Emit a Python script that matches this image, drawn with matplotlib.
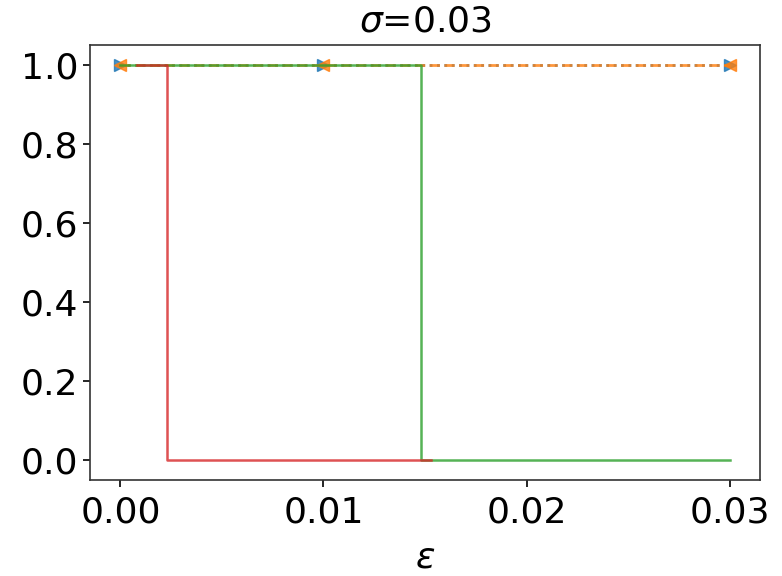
import matplotlib
matplotlib.use("Agg")
import matplotlib.pyplot as plt

# data
marker_x = [0.0, 0.01, 0.03]
blue_y = [1.0, 1.0, 1.0]
orange_y = [1.0, 1.0, 1.0]
green_x = [0.0, 0.0148, 0.0148, 0.03]
green_y = [1.0, 1.0, 0.0, 0.0]
red_x = [0.0008, 0.0023, 0.0023, 0.0153]
red_y = [1.0, 1.0, 0.0, 0.0]

fig = plt.figure(figsize=(7.82, 5.76), dpi=100)
ax = fig.add_axes([0.115, 0.167, 0.857, 0.755])
ax.plot(marker_x, blue_y, ':', marker='>', color='C0', lw=2, ms=8, alpha=0.8)
ax.plot(marker_x, orange_y, '--', marker='<', color='C1', lw=2, ms=8, alpha=0.8)
ax.plot(green_x, green_y, '-', color='C2', lw=1.8, alpha=0.8)
ax.plot(red_x, red_y, '-', color='C3', lw=1.8, alpha=0.8)

ax.set_xticks([0.0, 0.01, 0.02, 0.03])
ax.set_xticklabels(['0.00', '0.01', '0.02', '0.03'])
ax.set_yticks([0.0, 0.2, 0.4, 0.6, 0.8, 1.0])
ax.tick_params(labelsize=26, width=1.2, length=5)
ax.tick_params(axis='x', pad=6)
for s in ax.spines.values():
    s.set_linewidth(1.2)
    s.set_color('#333333')
ax.set_title(r'$\sigma$=0.03', fontsize=26, pad=10)
ax.set_xlabel(r'$\epsilon$', fontsize=26, labelpad=8)
fig.savefig('out.png', dpi=100)
